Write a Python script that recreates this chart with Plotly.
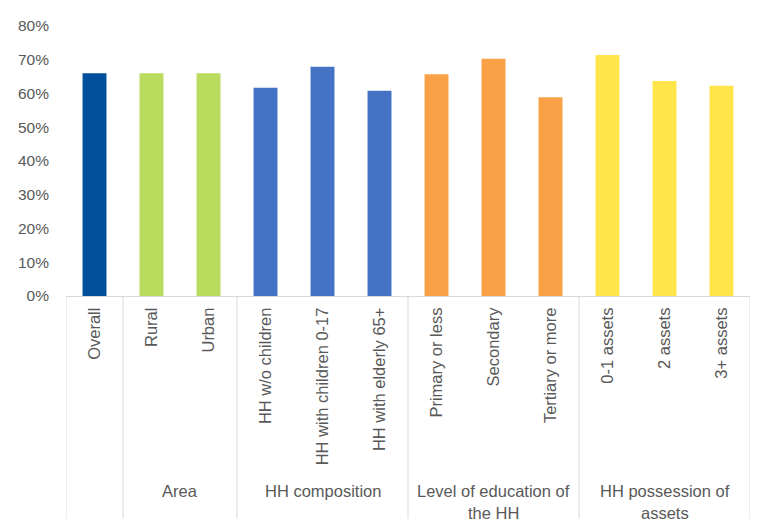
import plotly.graph_objects as go

categories = ["Overall", "Rural", "Urban", "HH w/o children", "HH with children 0-17",
              "HH with elderly 65+", "Primary or less", "Secondary", "Tertiary or more",
              "0-1 assets", "2 assets", "3+ assets"]
values = [0.660, 0.660, 0.660, 0.617, 0.679, 0.608, 0.657, 0.703, 0.589, 0.714, 0.637, 0.623]
bar_colors = ["#00509B", "#BADC5E", "#BADC5E", "#4472C4", "#4472C4", "#4472C4",
              "#F9A146", "#F9A146", "#F9A146", "#FFE54A", "#FFE54A", "#FFE54A"]

group_names = [["Area"], ["HH composition"], ["Level of education of", "the HH"],
               ["HH possession of", "assets"]]
group_centers = [1.5, 4, 7, 10]
divider_positions = [-0.5, 0.5, 2.5, 5.5, 8.5, 11.5]

GRAY = "#595959"
LINE = "#D9D9D9"
FONT = "Liberation Sans"

fig = go.Figure(go.Bar(
    x=categories, y=values, marker=dict(color=bar_colors, line=dict(width=0)),
    width=0.42,
))

# page has an 8px body margin; plot area target: x 66..750, y 17..296
top_m, bot_m = 9, 235
plot_h = 523 - top_m - bot_m
shapes = []
for xp in divider_positions:
    shapes.append(dict(type="line", xref="x", yref="paper", x0=xp, x1=xp,
                       y0=0, y1=-(230 / plot_h), line=dict(color=LINE, width=1)))

annotations = []
for name, cx in zip(group_names, group_centers):
    rows = [498, 520.5]
    if len(name) == 1:
        rows = [498]
    for line_text, ry in zip(name, rows):
        annotations.append(dict(x=cx, xref="x", y=-(ry - 296) / plot_h, yref="paper",
                                text=line_text, showarrow=False, yanchor="middle",
                                font=dict(family=FONT, size=16.5, color=GRAY)))

fig.update_layout(
    width=761, height=523,
    margin=dict(l=58, r=19, t=top_m, b=bot_m),
    paper_bgcolor="white", plot_bgcolor="white",
    showlegend=False,
    shapes=shapes, annotations=annotations,
    font=dict(family=FONT, size=16, color=GRAY),
    xaxis=dict(type="category", tickangle=-90, showline=True, linecolor=LINE,
               linewidth=1, showgrid=False, ticks="", range=[-0.5, 11.5],
               ticklabelstandoff=4,
               tickfont=dict(family=FONT, size=16.5, color=GRAY)),
    yaxis=dict(range=[0, 0.8], dtick=0.1, tickformat=".0%", showgrid=False,
               zeroline=False, showline=False, ticklabelstandoff=16,
               tickfont=dict(family=FONT, size=15.5, color=GRAY)),
)

fig.write_html("out.html")
